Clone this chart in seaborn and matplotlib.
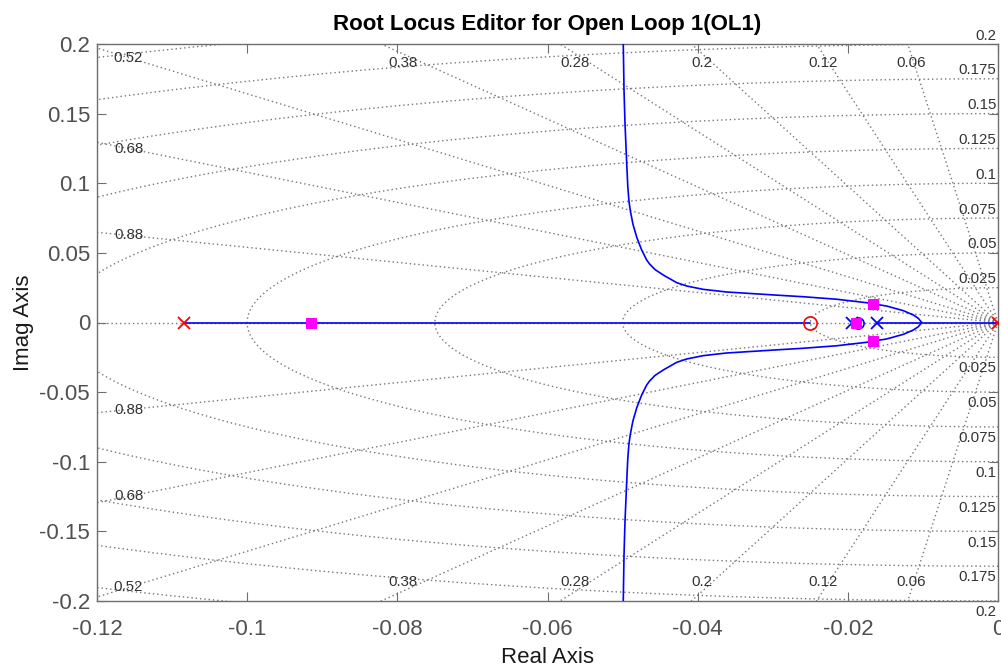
import numpy as np
import matplotlib
matplotlib.use("Agg")
import matplotlib.pyplot as plt
import seaborn as sns

# Open-loop poles/zeros: compensator (red) and plant (blue)
comp_poles = [-0.1084, 0.0]
comp_zeros = [-0.0250]
plant_poles = [-0.01949, -0.01616]
plant_zeros = [-0.01861]

# Closed-loop poles at the current gain
cl_re = [-0.0915, -0.01891, -0.01661, -0.01661]
cl_im = [0.0, 0.0, 0.0133, -0.0133]

# Portions of the real axis that belong to the locus
seg_start = [-0.1084, -0.01949, -0.01616]
seg_end = [-0.0250, -0.01861, 0.0]

# Complex branch in the upper half plane, from the breakaway point out to the asymptote
branch_re = [-0.01016, -0.01061, -0.01128, -0.01261, -0.01482, -0.01749, -0.02148,
             -0.02593, -0.02904, -0.03259, -0.03613, -0.03925, -0.04146, -0.04279,
             -0.04458, -0.04568, -0.04640, -0.04679, -0.04746, -0.04810, -0.04862,
             -0.04896, -0.04915, -0.04931, -0.04945, -0.04968, -0.04981, -0.04991,
             -0.04996]
branch_im = [0.0, 0.0030, 0.0054, 0.0085, 0.0118, 0.0142, 0.0167,
             0.0185, 0.0195, 0.0207, 0.0219, 0.0238, 0.0262, 0.0286,
             0.0341, 0.0380, 0.0420, 0.0449, 0.0521, 0.0610, 0.0706,
             0.0800, 0.0870, 0.0980, 0.1143, 0.1431, 0.1670, 0.2005,
             0.2500]

# s-plane grid: damping ratios and natural frequencies
zeta_vals = [0.06, 0.12, 0.2, 0.28, 0.38, 0.52, 0.68, 0.88]
wn_vals = [0.025, 0.05, 0.075, 0.1, 0.125, 0.15, 0.175, 0.2, 0.225]
wn_labels = ["0.025", "0.05", "0.075", "0.1", "0.125", "0.15", "0.175", "0.2"]

xticks = [-0.12, -0.1, -0.08, -0.06, -0.04, -0.02, 0.0]
xtick_labels = ["-0.12", "-0.1", "-0.08", "-0.06", "-0.04", "-0.02", "0"]
yticks = [-0.2, -0.15, -0.1, -0.05, 0.0, 0.05, 0.1, 0.15, 0.2]
ytick_labels = ["-0.2", "-0.15", "-0.1", "-0.05", "0", "0.05", "0.1", "0.15", "0.2"]

sns.set_theme(style="white")
plt.rcParams["font.family"] = ["Liberation Sans", "DejaVu Sans"]
plt.rcParams["axes.unicode_minus"] = False

fig = plt.figure(figsize=(10.01, 6.72), dpi=100)
ax = fig.add_axes([97 / 1001, 1 - 601 / 672, 901 / 1001, 557 / 672])

grid_kw = dict(color="#767676", lw=1.0, dashes=(1.0, 2.1), zorder=1)
label_kw = dict(fontsize=10.8, color="#333333", zorder=2)

# constant damping rays
R = 0.6
for z in zeta_vals:
    w = np.sqrt(1 - z * z)
    ax.plot([0, -z * R], [0, w * R], **grid_kw)
    ax.plot([0, -z * R], [0, -w * R], **grid_kw)
# real axis (zeta = 1)
ax.plot([-0.2, 0], [0, 0], **grid_kw)

# constant natural-frequency arcs
th = np.linspace(np.pi / 2, 3 * np.pi / 2, 600)
for wn in wn_vals:
    ax.plot(wn * np.cos(th), wn * np.sin(th), **grid_kw)

# damping labels
for z in zeta_vals:
    slope = np.sqrt(1 - z * z) / z
    txt = f"{z:g}"
    if slope * 0.1158 < 0.193:
        xl, yl = -0.1158, slope * 0.1158
    else:
        xl, yl = -0.193 / slope, 0.1865
    ax.text(xl, yl, txt, ha="center", va="center", **label_kw)
    ax.text(xl, -yl, txt, ha="center", va="center", **label_kw)

# natural frequency labels along the right edge
for wn, txt in zip(wn_vals, wn_labels):
    ax.text(-0.0002, wn + 0.001, txt, ha="right", va="bottom", clip_on=False, **label_kw)
    ax.text(-0.0002, -wn - 0.003, txt, ha="right", va="top", clip_on=False, **label_kw)

# root locus branches
loc_kw = dict(color="#0000ff", lw=1.2, zorder=3)
for a, b in zip(seg_start, seg_end):
    sns.lineplot(x=[a, b], y=[0.0, 0.0], sort=False, estimator=None, ax=ax, **loc_kw)
sns.lineplot(x=branch_re, y=branch_im, sort=False, estimator=None, ax=ax, **loc_kw)
sns.lineplot(x=branch_re, y=[-v for v in branch_im], sort=False, estimator=None, ax=ax, **loc_kw)

# poles, zeros and closed-loop poles
sns.lineplot(x=comp_poles, y=[0.0] * len(comp_poles), sort=False, estimator=None, ax=ax,
             marker="x", linestyle="", color="red", markeredgecolor="red",
             markersize=9, markeredgewidth=1.3, zorder=5)
sns.lineplot(x=comp_zeros, y=[0.0] * len(comp_zeros), sort=False, estimator=None, ax=ax,
             marker="o", linestyle="", markerfacecolor="none", markeredgecolor="red",
             color="red", markersize=9.5, markeredgewidth=1.2, zorder=5)
sns.lineplot(x=plant_poles, y=[0.0] * len(plant_poles), sort=False, estimator=None, ax=ax,
             marker="x", linestyle="", color="#0000ff", markeredgecolor="#0000ff",
             markersize=8, markeredgewidth=1.3, zorder=5)
sns.lineplot(x=plant_zeros, y=[0.0] * len(plant_zeros), sort=False, estimator=None, ax=ax,
             marker="o", linestyle="", markerfacecolor="none", markeredgecolor="#0000ff",
             color="#0000ff", markersize=8, markeredgewidth=1.2, zorder=5)
sns.lineplot(x=cl_re, y=cl_im, sort=False, estimator=None, ax=ax,
             marker="s", linestyle="", color="#ff00ff", markeredgecolor="#ff00ff",
             markersize=7, zorder=6)

ax.set_xlim(-0.12, 0.0)
ax.set_ylim(-0.2, 0.2)
ax.set_xticks(xticks)
ax.set_xticklabels(xtick_labels)
ax.set_yticks(yticks)
ax.set_yticklabels(ytick_labels)
ax.tick_params(axis="both", which="major", direction="in", length=6.5, width=0.8,
               color="#6e6e6e", labelcolor="#505050", labelsize=16,
               top=True, right=True, bottom=True, left=True)
ax.tick_params(axis="x", pad=13)
ax.tick_params(axis="y", pad=5)
for sp in ax.spines.values():
    sp.set_visible(True)
    sp.set_color("#6e6e6e")
    sp.set_linewidth(1.0)

ax.set_title("Root Locus Editor for Open Loop 1(OL1)", fontsize=16, fontweight="bold",
             color="black", pad=10)
ax.set_xlabel("Real Axis", fontsize=16, color="#1a1a1a", labelpad=5)
ax.set_ylabel("Imag Axis", fontsize=16, color="#1a1a1a", labelpad=4)

fig.savefig("out.png", dpi=100, facecolor="white")
